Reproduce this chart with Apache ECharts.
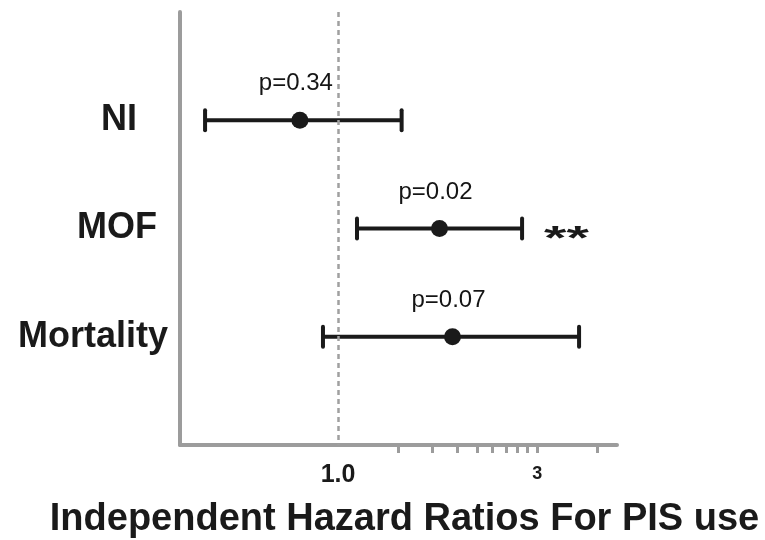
<!DOCTYPE html>
<html><head><meta charset="utf-8">
<script src="https://cdn.jsdelivr.net/npm/echarts@6/dist/echarts.min.js"></script>
<style>html,body{margin:0;padding:0;background:#fff}#c{width:765px;height:540px}</style>
</head><body><div id="c"></div>
<script>
const categories = ['NI', 'MOF', 'Mortality'];
const hazardRatios = [0.81, 1.75, 1.88];
const ciLower = [0.48, 1.11, 0.92];
const ciUpper = [1.42, 2.76, 3.78];
const pLabels = ['p=0.34', 'p=0.02', 'p=0.07'];
const significance = ['', '**', ''];
const xTickValues = [1, 3];
const xTickLabels = ['1.0', '3'];
const xMinorTickValues = [1.39, 1.68, 1.93, 2.15, 2.34, 2.53, 2.69, 2.84, 3, 4.18];
const xRange = [0.418, 4.66];
const refValue = 1;
const xTitle = 'Independent Hazard Ratios For PIS use';

const yCats = [' ', ...categories, '  '];
const labelRich = ['ni', 'mof', 'mortality'];

const chart = echarts.init(document.getElementById('c'), null, {renderer: 'canvas'});
const axisGray = '#9c9c9c';
const ink = '#1a1a1a';

const option = {
  animation: false,
  backgroundColor: '#fff',
  textStyle: {fontFamily: 'Liberation Sans'},
  grid: {left: 180, right: 148, top: 12, bottom: 95, containLabel: false, outerBoundsMode: 'none'},
  xAxis: {
    type: 'log', logBase: 3, min: xRange[0], max: xRange[1],
    axisLine: {show: true, onZero: false, lineStyle: {color: axisGray, width: 4}},
    axisTick: {show: true, customValues: xMinorTickValues, length: 8, lineStyle: {color: axisGray, width: 3}},
    axisLabel: {
      customValues: xTickValues, margin: 18,
      formatter: (v) => {
        let best = 0;
        xTickValues.forEach((t, i) => { if (Math.abs(t - v) < Math.abs(xTickValues[best] - v)) best = i; });
        return best === 0 ? '{big|' + xTickLabels[best] + '}' : '{small|' + xTickLabels[best] + '}';
      },
      rich: {
        big: {fontSize: 25, fontWeight: 'bold', color: ink, fontFamily: 'Liberation Sans'},
        small: {fontSize: 18, fontWeight: 'bold', color: ink, fontFamily: 'Liberation Sans', padding: [2, 0, 0, 0]}
      }
    },
    splitLine: {show: false},
    minorTick: {show: false},
    name: xTitle, nameLocation: 'middle', nameGap: 56,
    nameTextStyle: {fontSize: 38, fontWeight: 'bold', color: ink, fontFamily: 'Liberation Sans', padding: [0, 0, 0, 12]}
  },
  yAxis: {
    type: 'category', data: yCats, inverse: true, boundaryGap: false,
    axisLine: {show: true, onZero: false, lineStyle: {color: axisGray, width: 4}},
    axisTick: {show: false},
    splitLine: {show: false},
    axisLabel: {
      margin: 12,
      formatter: (v) => {
        const i = categories.indexOf(v);
        return i < 0 ? '' : '{' + labelRich[i] + '|' + v + '}';
      },
      rich: {
        ni: {fontSize: 36, fontWeight: 'bold', color: ink, fontFamily: 'Liberation Sans', padding: [0, 31, 0, 0]},
        mof: {fontSize: 36, fontWeight: 'bold', color: ink, fontFamily: 'Liberation Sans', padding: [0, 11, 0, 0]},
        mortality: {fontSize: 36, fontWeight: 'bold', color: ink, fontFamily: 'Liberation Sans'}
      }
    }
  },
  series: [
    {
      type: 'custom',
      data: categories.map((c, i) => [ciLower[i], ciUpper[i], c]),
      encode: {x: [0, 1], y: 2},
      renderItem: (params, api) => {
        const lo = api.coord([api.value(0), api.value(2)]);
        const hi = api.coord([api.value(1), api.value(2)]);
        const capH = 10;
        const st = {stroke: ink, lineWidth: 4, lineCap: 'round'};
        const children = [
          {type: 'line', shape: {x1: lo[0], y1: lo[1], x2: hi[0], y2: hi[1]}, style: {stroke: ink, lineWidth: 4}},
          {type: 'line', shape: {x1: lo[0], y1: lo[1] - capH, x2: lo[0], y2: lo[1] + capH}, style: st},
          {type: 'line', shape: {x1: hi[0], y1: hi[1] - capH, x2: hi[0], y2: hi[1] + capH}, style: st}
        ];
        const sig = significance[params.dataIndex];
        if (sig) {
          children.push({type: 'text', x: hi[0] + 22, y: hi[1] + 11, scaleX: 1.25, scaleY: 0.72,
            style: {text: sig, fontSize: 46, fontWeight: 'bold', fill: ink, fontFamily: 'Liberation Sans',
              align: 'left', verticalAlign: 'middle'}});
        }
        return {type: 'group', children};
      },
      z: 2
    },
    {
      type: 'scatter',
      data: categories.map((c, i) => [hazardRatios[i], c]),
      symbol: 'circle', symbolSize: 17,
      itemStyle: {color: ink, opacity: 1},
      label: {
        show: true, position: 'top', distance: 16, offset: [-4, 0],
        formatter: (p) => pLabels[p.dataIndex],
        fontSize: 24, color: '#151515', fontFamily: 'Liberation Sans'
      },
      markLine: {
        silent: true, symbol: 'none', label: {show: false},
        lineStyle: {type: [5, 4], color: '#a0a0a0', width: 2.5, opacity: 1},
        data: [{xAxis: refValue}]
      },
      z: 3
    }
  ]
};
chart.setOption(option);
</script>
</body></html>
